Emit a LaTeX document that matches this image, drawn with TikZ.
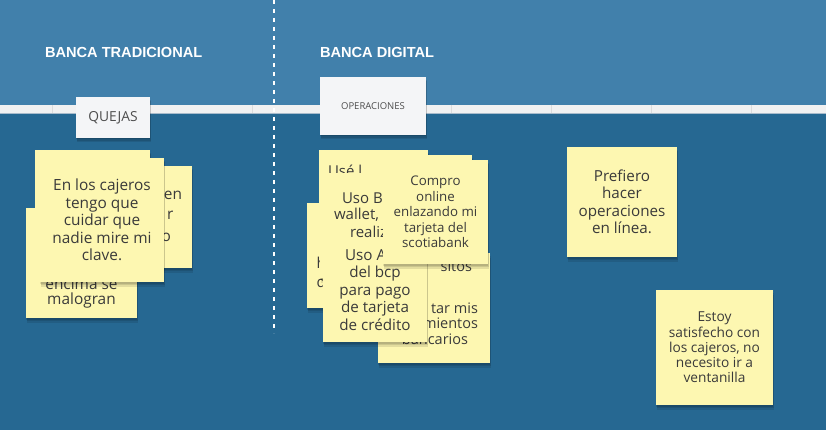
\documentclass[tikz,border=0pt]{standalone}
\usepackage{fontspec}
\setmainfont{Open Sans}
\newfontfamily\titlefont{Liberation Sans}
\usetikzlibrary{shadows}
\definecolor{topblue}{HTML}{4180AB}
\definecolor{botblue}{HTML}{266892}
\definecolor{stripcol}{HTML}{F1F1F1}
\definecolor{stripline}{HTML}{A8BBCB}
\definecolor{stripdiv}{HTML}{DCDCDC}
\definecolor{stickyyellow}{HTML}{FDF7B1}
\definecolor{notetext}{HTML}{3A3A3A}
\definecolor{labeltext}{HTML}{4D4D4D}
\definecolor{labelfill}{HTML}{F4F5F7}
\tikzset{
  softshadow/.style={
    general shadow={fill=black, opacity=0.10, shadow yshift=-1.5pt, shadow xshift=0.3pt},
    general shadow={fill=black, opacity=0.10, shadow yshift=-3pt, shadow xshift=0.5pt},
    general shadow={fill=black, opacity=0.10, shadow yshift=-4.5pt, shadow xshift=0.7pt}},
  sticky/.style={fill=stickyyellow, draw=none, inner sep=0pt, outer sep=0pt,
    anchor=north west, align=center, text=notetext, softshadow},
  frag/.style={inner sep=0pt, outer sep=0pt, text=notetext},
  hdrbox/.style={fill=labelfill, draw=none, inner sep=0pt, outer sep=0pt,
    anchor=north west, text=labeltext, softshadow},
  title/.style={inner sep=0pt, outer sep=0pt, anchor=west, text=white,
    font=\titlefont\bfseries\fontsize{14.6}{16}\selectfont},
  fA/.style={font=\fontsize{15.4}{17.6}\selectfont},
  fB/.style={font=\fontsize{13.3}{15.4}\selectfont},
  fC/.style={font=\fontsize{15}{17.5}\selectfont},
  fD/.style={font=\fontsize{15.2}{17.5}\selectfont},
  fE/.style={font=\fontsize{13.7}{15.2}\selectfont},
  fF/.style={font=\fontsize{14.5}{15.5}\selectfont},
}
\begin{document}
\begin{tikzpicture}[x=1pt,y=-1pt]
\useasboundingbox (0,0) rectangle (826,430);
% backgrounds
\fill[topblue] (0,0) rectangle (826,105);
\fill[botblue] (0,114) rectangle (826,430);
\fill[stripcol] (0,105) rectangle (826,114);
\draw[stripline, line width=1pt] (0,114) -- (826,114);
\foreach \xx in {52,252,451,551,651,751}
  \draw[stripdiv, line width=0.8pt] (\xx,105) -- (\xx,113.5);
% dashed divider
\coordinate (dtop) at (274,0);
\coordinate (dbot) at (274,333);
\draw[white, line width=1.2pt, dash pattern=on 4pt off 5pt] (dtop) -- (dbot);
% titles
\node[title] (t1) at (45,52.5) {BANCA TRADICIONAL};
\node[title] (t2) at (320,52.5) {BANCA DIGITAL};
% header boxes
\node[hdrbox, minimum width=74pt, minimum height=41pt, font=\fontsize{13.8}{16}\selectfont] (quejas) at (76,97) {QUEJAS};
\node[hdrbox, minimum width=106pt, minimum height=58pt, font=\fontsize{9.5}{11}\selectfont] (oper) at (320,77) {OPERACIONES};

% ---------- left cluster ----------
\node[sticky, minimum width=115pt, minimum height=112pt] (l1) at (35,150) {};
\node[sticky, minimum width=115pt, minimum height=102pt] (l2) at (77,166) {};
\node[frag, fA, anchor=east] (l2a) at (182,195) {en};
\node[frag, fA, anchor=east] (l2b) at (173.5,215) {r};
\node[frag, fA, anchor=east] (l2c) at (171,237) {o};
\node[sticky, minimum width=111pt, minimum height=110pt] (l3) at (26,208) {};
\node[frag, fA] (l3a) at (81.5,283.5) {encima se};
\node[frag, fA] (l3b) at (81.5,300) {malogran};
\node[sticky, fA, minimum width=124pt, minimum height=124pt] (l4) at (40,158)
  {En los cajeros\\tengo que\\cuidar que\\nadie mire mi\\clave.};

% ---------- middle cluster ----------
\node[sticky, minimum width=109pt, minimum height=105pt] (m1) at (319,150) {};
\node[frag, fC, anchor=west] (m1a) at (328,171) {Usé l};
\node[sticky, minimum width=110pt, minimum height=105pt] (m1b) at (362,155) {};
\node[sticky, minimum width=105pt, minimum height=105pt] (m4) at (307,203) {};
\node[frag, fC, anchor=west] (m4a) at (316.5,263) {h};
\node[frag, fC, anchor=west] (m4b) at (316.5,282) {d};
\node[sticky, minimum width=105pt, minimum height=105pt] (m2) at (320,173) {};
\node[frag, fC, anchor=west] (m2a) at (342,198) {Uso B};
\node[frag, fC, anchor=west] (m2b) at (334,215) {wallet,};
\node[frag, fC, anchor=west] (m2c) at (350,232) {realiz};
\node[sticky, minimum width=112pt, minimum height=110pt] (m6) at (378,253) {};
\node[frag, fF, anchor=east] (m6a) at (472,266) {sitos};
\node[frag, fF, anchor=east] (m6b) at (478,308) {tar mis};
\node[frag, fF, anchor=east] (m6c) at (478,323) {mientos};
\node[frag, fF] (m6d) at (435,339) {bancarios};
\node[sticky, fD, minimum width=104pt, minimum height=104pt] (m5) at (323,238)
  {Uso App\\del bcp\\para pago\\de tarjeta\\de crédito};
\node[sticky, fB, minimum width=105pt, minimum height=104pt] (m3) at (383,160)
  {Compro\\online\\enlazando mi\\tarjeta del\\scotiabank};

% ---------- right notes ----------
\node[sticky, fD, minimum width=110pt, minimum height=110pt] (p1) at (567,147)
  {Prefiero\\hacer\\operaciones\\en línea.};
\node[sticky, fE, minimum width=117pt, minimum height=115pt] (e1) at (656,290)
  {Estoy\\satisfecho con\\los cajeros, no\\necesito ir a\\ventanilla};
\end{tikzpicture}
\end{document}
